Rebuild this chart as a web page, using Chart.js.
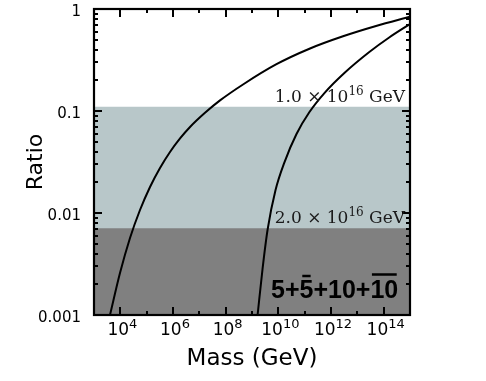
<!DOCTYPE html>
<html><head><meta charset="utf-8">
<script src="https://cdn.jsdelivr.net/npm/chart.js@4.4.1/dist/chart.umd.min.js"></script>
<style>html,body{margin:0;padding:0;background:#fff;}canvas{display:block;}</style>
</head><body>
<canvas id="c" width="486" height="381" style="width:486px;height:381px"></canvas>
<script>
// ---- data ----
const xRange = [1e3, 1e15];
const yRange = [0.001, 1];
const xTickExponents = [4, 6, 8, 10, 12, 14];
const yTickValues = [0.001, 0.01, 0.1, 1];
const yTickLabels = ['0.001', '0.01', '0.1', '1'];

const massA  = [4.05e3, 9.7e3, 2.33e4, 5.58e4, 1.34e5, 3.21e5, 7.69e5, 1.85e6, 4.43e6, 1.64e7, 6.10e7, 4.56e8, 8.17e9, 1.60e11, 2.86e12, 5.13e13, 1e15];
const ratioA = [0.001, 0.00258, 0.00569, 0.0107, 0.0180, 0.0276, 0.0396, 0.0538, 0.0697, 0.0960, 0.127, 0.182, 0.286, 0.410, 0.540, 0.681, 0.839];

const massB  = [1.63e9, 2.51e9, 3.89e9, 7.83e9, 1.72e10, 4.90e10, 1.52e11, 5.62e11, 3.22e12, 2.85e13, 1.62e14, 1e15];
const ratioB = [0.001, 0.00282, 0.00681, 0.0168, 0.0316, 0.0595, 0.0977, 0.150, 0.236, 0.379, 0.526, 0.713];

const bandUpper = [0.11, 0.0071];          // light band top, dark band top
const bandLabelMantissas = ['1.0', '2.0'];
const bandLabelExponent = '16';
const groupParts = ['5', '+', '5', '+', '10', '+', '10'];
const groupOverline = [false, false, true, false, false, false, true];

const xTitle = 'Mass (GeV)';
const yTitle = 'Ratio';

// ---- build ----
const toPts = (xs, ys) => xs.map((v, i) => ({x: v, y: ys[i]}));
const bandPts = v => [{x: xRange[0], y: v}, {x: xRange[1], y: v}];

const decor = {
  id: 'decor',
  afterDatasetsDraw(chart) {
    const {ctx, chartArea: a, scales: {x, y}} = chart;
    ctx.save();
    ctx.strokeStyle = '#000';
    ctx.lineWidth = 2;
    const seg = (x1, y1, x2, y2) => { ctx.beginPath(); ctx.moveTo(x1, y1); ctx.lineTo(x2, y2); ctx.stroke(); };
    const e0 = Math.round(Math.log10(xRange[0])), e1 = Math.round(Math.log10(xRange[1]));
    for (let e = e0 + 1; e < e1; e++) {
      const px = Math.round(x.getPixelForValue(Math.pow(10, e)));
      const len = e % 2 === 0 ? 8 : 4;
      seg(px, a.bottom, px, a.bottom - len);
      seg(px, a.top, px, a.top + len);
    }
    const d0 = Math.round(Math.log10(yRange[0])), d1 = Math.round(Math.log10(yRange[1]));
    for (let d = d0; d < d1; d++) {
      for (let m = 1; m <= 9; m++) {
        if (d === d0 && m === 1) continue;
        const py = Math.round(y.getPixelForValue(m * Math.pow(10, d)));
        const len = m === 1 ? 8 : 4;
        seg(a.left, py, a.left + len, py);
        seg(a.right, py, a.right - len, py);
      }
    }
    ctx.lineWidth = 2.2;
    ctx.strokeRect(a.left, a.top, a.right - a.left, a.bottom - a.top);

    // x tick labels with superscripts
    ctx.fillStyle = '#000';
    ctx.textAlign = 'left';
    ctx.textBaseline = 'alphabetic';
    xTickExponents.forEach(e => {
      const px = x.getPixelForValue(Math.pow(10, e));
      ctx.font = '17px "DejaVu Sans"';
      const wb = ctx.measureText('10').width;
      ctx.font = '13px "DejaVu Sans"';
      const ws = ctx.measureText(String(e)).width;
      const x0 = px - (wb + ws) / 2 + 2;
      ctx.font = '17px "DejaVu Sans"';
      ctx.fillText('10', x0, 335);
      ctx.font = '13px "DejaVu Sans"';
      ctx.fillText(String(e), x0 + wb, 328);
    });

    // band labels
    ctx.fillStyle = '#1a1a1a';
    bandUpper.forEach((v, i) => {
      const base = y.getPixelForValue(v) - 5;
      const pre = bandLabelMantissas[i] + ' \u00d7 10', post = ' GeV';
      ctx.font = '17px "DejaVu Serif"';
      const w1 = ctx.measureText(pre).width, w3 = ctx.measureText(post).width;
      ctx.font = '12px "DejaVu Serif"';
      const w2 = ctx.measureText(bandLabelExponent).width;
      let x0 = 405 - (w1 + w2 + w3);
      ctx.font = '17px "DejaVu Serif"';
      ctx.fillText(pre, x0, base);
      ctx.font = '12px "DejaVu Serif"';
      ctx.fillText(bandLabelExponent, x0 + w1, base - 7);
      ctx.font = '17px "DejaVu Serif"';
      ctx.fillText(post, x0 + w1 + w2, base);
    });

    // group label
    ctx.fillStyle = '#000';
    ctx.font = 'bold 25px "Liberation Sans"';
    let gx = 271, gb = 298;
    ctx.lineWidth = 2.5;
    groupParts.forEach((p, i) => {
      const w = ctx.measureText(p).width;
      ctx.fillText(p, gx, gb);
      if (groupOverline[i]) {
        if (p.length === 1) seg(gx + w * 0.2, gb - 22, gx + w * 0.8, gb - 22);
        else seg(gx + 1.5, gb - 23.5, gx + w - 1.5, gb - 23.5);
      }
      gx += w;
    });
    ctx.restore();
  }
};

new Chart(document.getElementById('c'), {
  type: 'scatter',
  data: {
    datasets: [
      {data: toPts(massA, ratioA), showLine: true, borderColor: '#000', borderWidth: 2, pointRadius: 0, cubicInterpolationMode: 'monotone', fill: false},
      {data: toPts(massB, ratioB), showLine: true, borderColor: '#000', borderWidth: 2, pointRadius: 0, cubicInterpolationMode: 'monotone', fill: false},
      {data: bandPts(bandUpper[1]), showLine: true, borderWidth: 0, borderColor: 'rgba(0,0,0,0)', pointRadius: 0, fill: 'start', backgroundColor: '#808080'},
      {data: bandPts(bandUpper[0]), showLine: true, borderWidth: 0, borderColor: 'rgba(0,0,0,0)', pointRadius: 0, fill: 'start', backgroundColor: '#b8c7c9'}
    ]
  },
  options: {
    responsive: false,
    animation: false,
    devicePixelRatio: 1,
    layout: {padding: {left: 0, right: 76, top: 9, bottom: 0}},
    plugins: {legend: {display: false}, tooltip: {enabled: false}},
    scales: {
      x: {
        type: 'logarithmic', min: xRange[0], max: xRange[1],
        grid: {display: false, drawTicks: false},
        border: {display: false},
        ticks: {display: false},
        afterFit: s => { s.height = 66; s.paddingLeft = 0; s.paddingRight = 0; },
        title: {display: true, text: xTitle, color: '#000', font: {family: 'DejaVu Sans', size: 23}, padding: {top: 0, bottom: 8}}
      },
      y: {
        type: 'logarithmic', min: yRange[0], max: yRange[1],
        grid: {display: false, drawTicks: false},
        border: {display: false},
        afterBuildTicks: s => { s.ticks = yTickValues.map(v => ({value: v})); },
        ticks: {autoSkip: false, padding: 13, labelOffset: 3, color: '#000', font: {family: 'DejaVu Sans', size: 15},
          callback: v => { const i = yTickValues.indexOf(v); return i >= 0 ? yTickLabels[i] : ''; }},
        afterFit: s => { s.width = 94; s.paddingTop = 0; s.paddingBottom = 0; },
        title: {display: true, text: yTitle, color: '#000', font: {family: 'DejaVu Sans', size: 22}, padding: {top: 23, bottom: 0}}
      }
    }
  },
  plugins: [decor]
});
</script>
</body></html>
